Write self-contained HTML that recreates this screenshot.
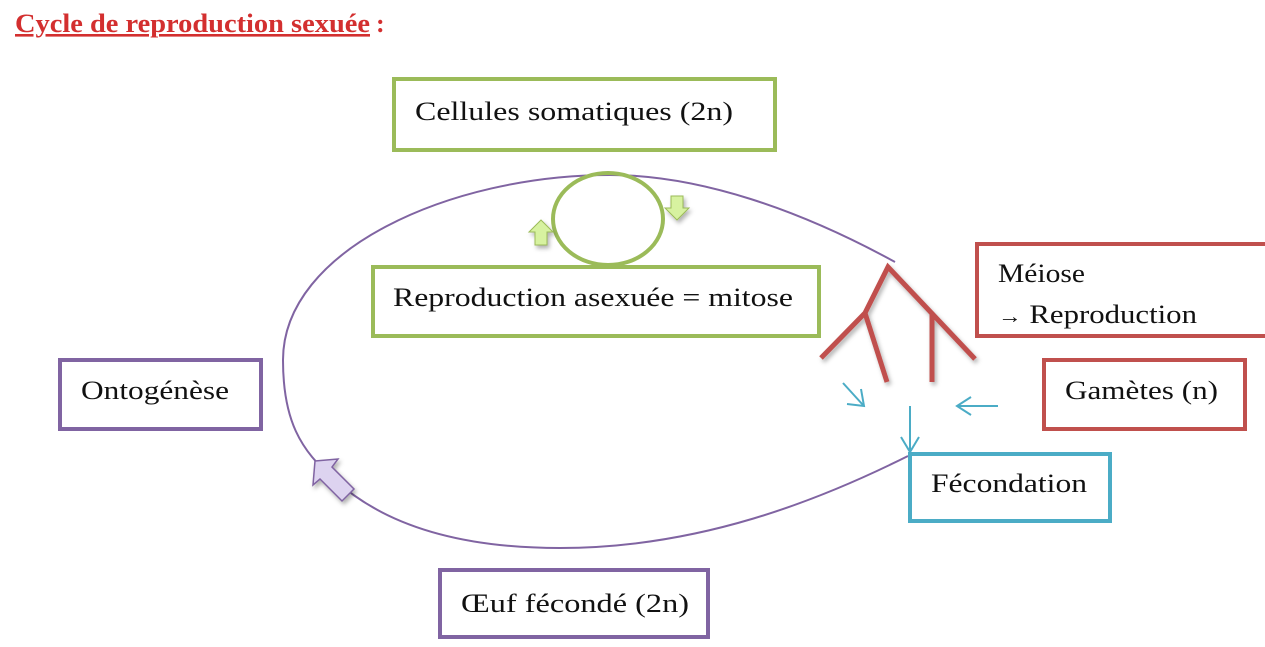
<!DOCTYPE html>
<html><head><meta charset="utf-8"><style>
body{margin:0;background:#fff;width:1265px;height:647px;overflow:hidden}
svg{display:block}
text{font-family:"Liberation Serif",serif;font-size:26px;fill:#111}
</style></head><body>
<svg width="1265" height="647" viewBox="0 0 1265 647">
<defs>
<filter id="sh" x="-50%" y="-50%" width="200%" height="200%"><feDropShadow dx="2" dy="3" stdDeviation="2" flood-color="#000" flood-opacity="0.3"/></filter>
</defs>
<text x="15" y="32" textLength="355" lengthAdjust="spacingAndGlyphs" style="font-size:26px;font-weight:bold;fill:#d32f2f;text-decoration:underline">Cycle de reproduction sexuée</text>
<text x="376" y="32" style="font-size:26px;font-weight:bold;fill:#d32f2f">:</text>

<path d="M895,262 C800,210 700,175 610,175 C450,175 283,250 283,360 C283,420 300,450 335,480 C390,530 470,548 560,548 C700,548 820,500 908,456" fill="none" stroke="#8064a2" stroke-width="2"/>
<path d="M315,461 L338,459 L332,467 L354,489 L342,501 L320,479 L313,485 Z" fill="#ddd3f0" stroke="#8064a2" stroke-width="1.5" filter="url(#sh)"/>

<ellipse cx="608" cy="219" rx="55" ry="46" fill="none" stroke="#9bbb59" stroke-width="4"/>
<path d="M541,220 L529,232 L535,232 L535,245 L547,245 L547,232 L553,232 Z" fill="#d7f2a0" stroke="#9bbb59" stroke-width="1" filter="url(#sh)"/>
<path d="M671,196 L683,196 L683,208 L689,208 L677,220 L665,208 L671,208 Z" fill="#d7f2a0" stroke="#9bbb59" stroke-width="1" filter="url(#sh)"/>

<rect x="394" y="79" width="381" height="71" fill="none" stroke="#9bbb59" stroke-width="4"/>
<text x="415" y="120" textLength="318" lengthAdjust="spacingAndGlyphs">Cellules somatiques  (2n)</text>
<rect x="373" y="267" width="446" height="69" fill="#fff" stroke="#9bbb59" stroke-width="4"/>
<text x="393" y="306" textLength="400" lengthAdjust="spacingAndGlyphs">Reproduction asexuée = mitose</text>
<rect x="977" y="244" width="300" height="92" fill="none" stroke="#c0504d" stroke-width="4"/>
<text x="998" y="282" textLength="87" lengthAdjust="spacingAndGlyphs">Méiose</text>
<text x="998" y="323" textLength="199" lengthAdjust="spacingAndGlyphs"><tspan style="font-size:20px">→</tspan> Reproduction</text>
<rect x="1044" y="360" width="201" height="69" fill="none" stroke="#c0504d" stroke-width="4"/>
<text x="1065" y="399" textLength="153" lengthAdjust="spacingAndGlyphs">Gamètes (n)</text>
<rect x="910" y="454" width="200" height="67" fill="none" stroke="#4bacc6" stroke-width="4"/>
<text x="931" y="492" textLength="156" lengthAdjust="spacingAndGlyphs">Fécondation</text>
<rect x="60" y="360" width="201" height="69" fill="none" stroke="#8064a2" stroke-width="4"/>
<text x="81" y="399" textLength="148" lengthAdjust="spacingAndGlyphs">Ontogénèse</text>
<rect x="440" y="570" width="268" height="67" fill="none" stroke="#8064a2" stroke-width="4"/>
<text x="461" y="612" textLength="228" lengthAdjust="spacingAndGlyphs">Œuf fécondé  (2n)</text>

<g stroke="#c0504d" stroke-width="5" fill="none" filter="url(#sh)">
<path d="M821,358 L865,313 L888,267 L975,359"/>
<path d="M865,313 L887,382"/>
<path d="M932,314 L932,382"/>
</g>

<g stroke="#4bacc6" stroke-width="2" fill="none">
<line x1="843" y1="383" x2="863" y2="405"/>
<path d="M847,404 L864,406 L861,389"/>
<line x1="998" y1="406" x2="957" y2="406"/>
<path d="M971,397 L957,406 L971,415"/>
<line x1="910" y1="406" x2="910" y2="452"/>
<path d="M901,437 L910,452 L919,437"/>
</g>
</svg>
</body></html>
